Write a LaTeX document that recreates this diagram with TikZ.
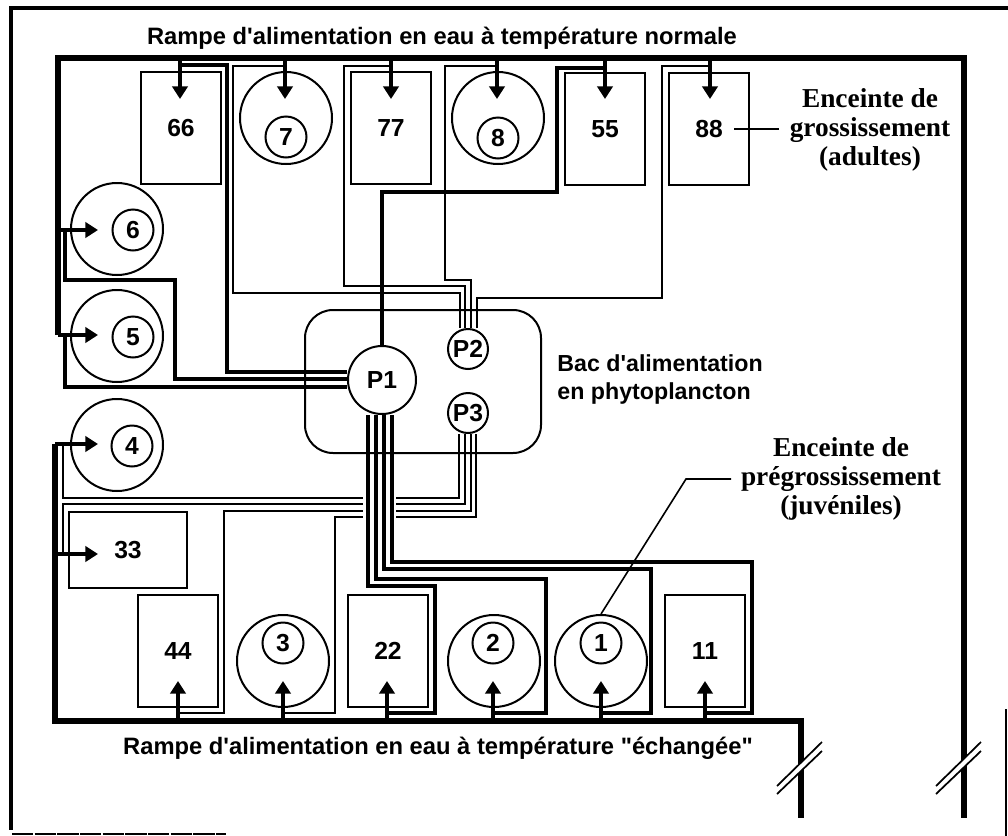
\documentclass[tikz,border=0pt]{standalone}
\usepackage{fontspec}
\setmainfont{Liberation Sans}[Ligatures=TeXOff]
\newfontfamily\serifbold{Liberation Serif}
\usetikzlibrary{arrows.meta}
\begin{document}
\begin{tikzpicture}[x=.75pt,y=-.75pt,line width=1.5pt,>={Triangle[length=9.5pt,width=11.5pt]},
  font=\fontsize{18.5}{20}\selectfont\bfseries,
  tankbox/.style={draw,inner sep=0,minimum width=60pt,minimum height=84pt},
  bigtank/.style={draw,circle,inner sep=0,minimum size=69pt},
  smalltank/.style={draw,circle,inner sep=0,minimum size=30.75pt},
  pump/.style={draw,circle,fill=white,inner sep=0},
  rail/.style={line width=3.8pt},
  feed/.style={->,line width=3.6pt},
  thinpipe/.style={line width=1.5pt},
  midpipe/.style={line width=2.6pt},
  thickpipe/.style={line width=3.2pt},
  title/.style={font=\fontsize{17.8}{20}\selectfont\bfseries},
  caption/.style={align=center,font=\fontsize{20.5}{21.5}\selectfont\bfseries\serifbold}]
  \useasboundingbox (0,0) rectangle (1008,836);
  % outer frame, only partly closed at the bottom
  \draw[line width=2.6pt] (1008,8)--(11,8)--(11,830);
  \draw[line width=1.2pt,dash pattern=on 16pt off 1pt] (12,834)--(226,834);
  \draw[line width=1.5pt] (1006,709)--(1006,836);
  % feeding tank
  \node[draw,rounded corners=21pt,inner sep=0,minimum width=177pt,minimum height=107.25pt] (bac) at (423,381.5) {};
  % taps on the pipes
  \foreach \id/\x/\y in {66/180/65,7/285/66,77/391/66,8/497/66,55/605/68,88/710/66,
    6/65/230,5/65/335,4/63/446,33/63/554,
    44/178/713,3/283/713,22/387/713,2/493/713,1/601/713,11/705/713}{
    \coordinate (tap\id) at (\x,\y);
  }
  % pumps
  \node[pump,minimum size=51pt] (P1) at (382,380) {P1};
  \node[pump,minimum size=30pt] (P2) at (468,349) {P2};
  \node[pump,minimum size=30pt] (P3) at (468,413) {P3};
  % P2: adults
  \draw[thinpipe] (460,0 |- P2.north) |- (233,293) |- (tap7);
  \draw[thinpipe] (465,0 |- P2.north) |- (344,286) |- (tap77);
  \draw[thinpipe] (471,0 |- P2.north) |- (445,280) |- (tap8);
  \draw[thinpipe] (477,0 |- P2.north) |- (662,298) |- (tap88);
  % P3: juveniles
  \draw[thinpipe] (459,0 |- P3.south) |- (63,498) |- (tap4);
  \draw[thinpipe] (465,0 |- P3.south) |- (63,504) |- (tap33);
  \draw[thinpipe] (471,0 |- P3.south) |- (224,511) |- (tap44);
  \draw[thinpipe] (476,0 |- P3.south) |- (335,517) |- (tap3);
  \fill[white] (363,490) rectangle (396,525);
  % P1
  \draw[thickpipe] (P1.west |- 0,372) -| (227,65) -- (tap66);
  \draw[midpipe] (P1.west |- 0,379) -| (175,280) -| (tap6);
  \draw[midpipe] (P1.west |- 0,387) -| (tap5);
  \draw[midpipe] (P1.north) |- (557,192) |- (tap55);
  \draw[thickpipe] (368,0 |- P1.south) |- (435,586) |- (tap22);
  \draw[midpipe] (376,0 |- P1.south) |- (546,579) |- (tap2);
  \draw[thickpipe] (384,0 |- P1.south) |- (651,569) |- (tap1);
  \draw[thickpipe] (392,0 |- P1.south) |- (752,562) |- (tap11);
  % tanks
  \foreach \id/\x/\y in {66/181/128,77/391/128,55/605/129,88/709/129,44/178/651,22/388/651,11/705/651}{
    \node[tankbox] (box\id) at (\x,\y) {\id};
  }
  \node[tankbox,minimum width=88.5pt,minimum height=57pt] (box33) at (128,550) {33};
  \foreach \id/\x/\y/\xs/\ys in {7/286/118/286/137,8/498/118/498/138,6/117/229/133/230,5/117/336/133/337,
    4/117/445/132/446,3/283/661/283/643,2/494/661/493/643,1/601/661/601/643}{
    \node[bigtank] (big\id) at (\x,\y) {};
    \node[smalltank] (small\id) at (\xs,\ys) {\id};
  }
  % water rails
  \draw[rail] (58,335)--(58,58)--(964,58)--(964,818);
  \draw[rail] (55,444)--(55,721)--(801,721)--(801,818);
  \foreach \id/\x in {66/180,7/285,77/391,8/497,55/605,88/710}{
    \draw[feed] (\x,58)--(\x,99);
  }
  \foreach \id/\x in {44/178,3/283,22/387,2/493,1/601,11/705}{
    \draw[feed] (\x,721)--(\x,681);
  }
  \foreach \y/\xa in {230/58,335/58,444/55,554/55}{
    \draw[feed] (\xa,\y)--(98,\y);
  }
  % cuts on the rails
  \foreach \xa in {777,936}{
    \fill[white] (\xa,786)--(\xa+45,742)--(\xa+45,751)--(\xa,794)--cycle;
    \draw[line width=1.3pt] (\xa,786)--(\xa+45,742) (\xa,794)--(\xa+45,751);
  }
  % labels
  \node[title] (hot) at (442,38) {Rampe d'alimentation en eau à température normale};
  \node[title] (cold) at (438,748) {Rampe d'alimentation en eau à température "échangée"};
  \node[title,align=left,anchor=west,font=\fontsize{17.4}{21}\selectfont\bfseries] (bacname) at (552,379) {Bac d'alimentation\\en phytoplancton};
  \node[caption] (adults) at (870,130) {Enceinte de\\grossissement\\(adultes)};
  \node[caption] (young) at (841,479) {Enceinte de\\prégrossissement\\(juvéniles)};
  \coordinate (elbow) at (686,479);
  \draw[line width=1.2pt] (779,129)--(734,129);
  \draw[line width=1.2pt] (731,479)--(elbow)--(big1.north);
\end{tikzpicture}
\end{document}
